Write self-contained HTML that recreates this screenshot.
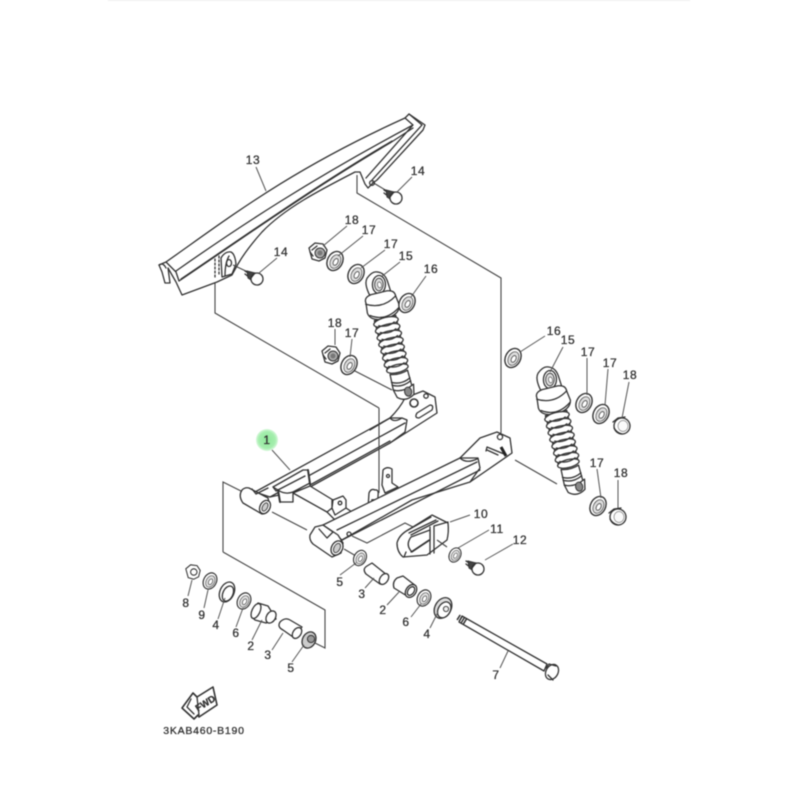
<!DOCTYPE html>
<html><head><meta charset="utf-8"><style>
html,body{margin:0;padding:0;background:#fff;width:800px;height:800px;overflow:hidden}
svg{display:block;filter:blur(.5px)}
text{font-family:"Liberation Sans",sans-serif;font-size:12px;fill:#333;text-anchor:middle;stroke:#333;stroke-width:.3px;letter-spacing:.6px}
.l{stroke:#333;stroke-width:1.3;fill:none;stroke-linejoin:round;stroke-linecap:round}
.f{stroke:#333;stroke-width:1.3;fill:#fff;stroke-linejoin:round}
.t{stroke:#555;stroke-width:1}
.d{stroke:#444;stroke-width:1.1;fill:none}
</style></head><body>
<svg width="800" height="800" viewBox="0 0 800 800" xmlns="http://www.w3.org/2000/svg">
<defs>
<radialGradient id="g"><stop offset="0" stop-color="#8fe89a"/><stop offset=".75" stop-color="#a5eeae"/><stop offset="1" stop-color="#d8f8dc"/></radialGradient>
<g id="w"><ellipse rx="7.5" ry="10" transform="rotate(28)" fill="#fff" stroke="#333" stroke-width="1.4"/><ellipse rx="5" ry="7.2" cx=".6" cy=".3" transform="rotate(28)" fill="#ddd" stroke="#555" stroke-width=".8"/><ellipse rx="2.2" ry="3.6" cx="1" cy=".5" transform="rotate(28)" fill="#fff" stroke="#444" stroke-width=".8"/></g>
<g id="nut"><path class="f" d="M-9 -4 L-3 -9 L5 -8 L9 -2 L7 6 L1 9 L-6 7 Z"/><path class="l" d="M-6 -2 L-1 -6 M-5 4 L-8 0"/><circle cx="2" cy="1" r="5" fill="#aaa" stroke="#333"/><circle cx="2" cy="1" r="2.5" fill="#777"/></g>
<g id="dome"><circle r="8" cx="2" cy="1" class="f"/><path class="l" d="M-7 -3 L-2 -7 L5 -8 M-6 3 Q-3 8 2 9"/><ellipse cx="3" cy="1" rx="5" ry="5.5" fill="#fafafa" stroke="#888" stroke-width=".7"/></g>
<g id="bolt"><path class="l" d="M-10 -6 L-3 -2 M-10 -3 L-5 1" stroke-width="1.6"/><path d="M-8 -6 L0 -4 L-1 5 L-7 1 Z" fill="#444" stroke="#333"/><circle cx="2" cy="2" r="6" class="f"/><path class="l" d="M-4 1 L0 -4"/></g>
<g id="shock">
<path class="f" d="M-10 6 Q-12 -5 -8 -9 Q-2 -14 2 -13 Q10 -11 11 -2 L12 12 L-8 14 Z"/>
<ellipse cx="2" cy="0" rx="6.5" ry="9" class="f" transform="rotate(15 2 0)"/><ellipse cx="2" cy="0" rx="4.3" ry="6.3" fill="#ddd" stroke="#444" transform="rotate(15 2 0)"/><ellipse cx="2.5" cy=".5" rx="2" ry="3" fill="#fff" stroke="#666" stroke-width=".8"/>
<path class="f" d="M-15 15 Q-16 9 -8 8 L8 8 Q16 9 15.5 15 L17 25 Q15 34 0 35 Q-15 34 -16 25 Z"/>
<path class="l" d="M-15.5 16 Q0 25 15.5 15"/>
<path class="l" d="M-14 28 Q0 38 16 27" stroke="#666"/>
<path class="f" d="M-11 34 L-10 86 L10 86 L11 34 Z"/>
<g class="f">
<ellipse cx="0" cy="38" rx="12.5" ry="4.5"/><ellipse cx="0" cy="45" rx="12.5" ry="4.5"/><ellipse cx="0" cy="52" rx="12.5" ry="4.5"/><ellipse cx="0" cy="59" rx="12.5" ry="4.5"/><ellipse cx="0" cy="66" rx="12" ry="4.5"/><ellipse cx="0" cy="73" rx="12" ry="4.5"/><ellipse cx="0" cy="80" rx="12" ry="4.5"/><ellipse cx="0" cy="86" rx="11" ry="4"/>
</g>
<path class="l" stroke="#777" stroke-width=".8" d="M-8 40 Q0 44 8 40 M-8 47 Q0 51 8 47 M-8 54 Q0 58 8 54 M-8 61 Q0 65 8 61 M-8 68 Q0 72 8 68 M-8 75 Q0 79 8 75 M-8 82 Q0 86 8 82"/>
<path class="f" d="M-8.5 90 L-9 106 Q0 111 10 106 L9.5 90 Q0 93 -8.5 90 Z"/>
<path class="l" d="M-9 98 Q0 103 10 98 M-9 101 Q0 106 10 101"/>
<path class="f" d="M-9 106 L-7 114 Q1 121 10 115 L12 105 Q0 111 -9 106 Z"/>
<ellipse cx="5" cy="111" rx="3.6" ry="4.6" fill="#888" stroke="#333"/>
</g>
</defs>
<rect width="800" height="800" fill="#fff"/>
<path d="M108 0.5H690" stroke="#eee"/>
<circle cx="267" cy="440" r="11" fill="url(#g)"/>

<!-- dashed / assembly lines -->
<path class="d" d="M215 282V313L379 408"/>
<path class="d" d="M357 175V193L501 278V433"/>
<path class="d" d="M223 552V482L243 492M272 512L307 530"/>
<path class="d" d="M223 552L325 610V648L315 643"/>
<path class="d" d="M353 370L392 390"/>
<path class="d" d="M515 460L557 484"/>
<path class="d" d="M344 549L356 556"/>

<!-- chain guard -->
<path class="f" d="M159 265 L166 262 C230 217 290 170 405 118 L409 114 L425 125 L423 130 L377 180 L373 183 L368 188 L365 184 L360 172 L355 172 C320 190 285 208 262 232 Q246 250 238 264 L232 275 L217 282 L182 295 L176 282 L168 268 L170 283 L165 283 L162 272 Z"/>
<path class="l" d="M166 262 L176 272 L179 281 M159 265 Q163 262 166 268 M176 271 C240 226 310 180 413 125 L405 118 M179 281 C240 240 310 190 390 143 M181 279 C242 238 312 188 392 141 M409 114 L422 125 L372 180 M413 125 L366 178 M390 143 L413 128"/>
<path class="f" d="M221 258 Q225 251 231 252 Q235 254 236 264 L232 274 L222 277 Z"/>
<path class="l" d="M225 276 Q225 263 229 256"/>
<ellipse cx="229" cy="263" rx="2.5" ry="3.5" class="l"/>
<path class="l" stroke-dasharray="2 2" d="M215 259V279M219 256V276"/>
<path class="d" d="M233 265L250 273"/><path class="d" d="M372 182L387 191"/>
<circle cx="372" cy="183" r="2.4" class="l"/>
<use href="#bolt" x="394" y="196"/><use href="#bolt" x="255" y="277"/>

<!-- far arm -->
<path class="f" d="M255 492 L390 418 Q400 408 405 398 L423 391 L435 397 L437 413 L390 443 L310 487 L293 492 L270 497 Z"/>
<path class="l" d="M370 430 L390 418 L402 418 L407 420 L405 432 L390 443 M270 497 L405 423 M310 485 L390 441"/>
<path class="l" d="M390 418 Q394 423 402 418"/>
<circle cx="414" cy="403" r="4" class="l" style="stroke-width:1.6"/><circle cx="426" cy="396" r="2.2" class="l"/>
<path class="l" d="M417 413 L430 405 Q434 405 432 410 L419 418 Q414 418 417 413 Z"/>
<!-- cross tube -->
<path class="f" d="M293 493 L310 486 L333 500 L343 496 L346 500 L346 508 L352 512 L335 520 L327 512 Z"/>
<path class="l" d="M332 500 L332 508 L335 515 L346 508 M333 500 L332 508 L327 512"/>
<circle cx="340" cy="503" r="1.8" class="l"/>
<path class="f" d="M273 487 L303 470 L308 470 L310 483 L293 492 L293 502 L280 502 L278 490 Z"/>
<path class="l" d="M278 490 L280 502" style="stroke-width:2"/><path class="l" d="M308 470 L310 484" style="stroke-width:2"/><path class="l" d="M278 490 Q285 495 293 492 M273 487 L276 491 L305 476"/>
<!-- far pivot tube -->
<path class="f" d="M242 490 Q245 487 249 488 L268 498 L270 507 Q268 514 262 514 L243 503 Q238 496 242 490 Z"/>
<path class="l" d="M252 489 L256 494 L268 488"/>
<ellipse cx="265" cy="507" rx="5" ry="7" class="f" transform="rotate(28 265 507)"/><ellipse cx="265" cy="507" rx="2.5" ry="4.5" fill="#ccc" stroke="#444" transform="rotate(28 265 507)"/>

<!-- upright tabs & vertical line -->
<path class="f" d="M383 470 Q387 466 392 469 L392 483 L398 487 L385 493 L382 485 Z"/>
<circle cx="388" cy="476" r="1.5" class="l"/>
<path class="f" d="M369 493 Q371 488 375 490 Q379 489 378 496 L378 506 L368 508 Z"/>
<path class="l" d="M368 505 L364 508 L370 510 M372 500 h3" style="stroke-width:1.8"/>
<path class="d" d="M379 408V493"/>

<!-- near arm -->
<path class="f" d="M323 525 L460 458 L470 448 L480 438 L497 432 L510 438 L512 453 L470 482 L412 500 L342 540 Z"/>
<path class="l" d="M460 458 L470 458 L478 458 L480 468 L470 482 M337 530 L477 462 M342 540 L480 470"/>
<path class="l" d="M460 458 Q466 464 477 459"/>
<circle cx="500" cy="437" r="2.6" class="l"/>
<path class="l" d="M487 447 L504 454 M487 450 L498 455 M487 447 L486 451"/>
<path d="M501 447 L506 456" stroke="#222" stroke-width="3"/>
<!-- near tube -->
<path class="f" d="M310 535 L315 527 L323 525 L338 535 L343 543 L341 553 L332 557 L313 544 Q309 540 310 535 Z"/>
<path class="l" d="M319 529 L327 538 L333 532 L323 525"/>
<ellipse cx="337" cy="548" rx="5.5" ry="7.5" class="f" transform="rotate(28 337 548)"/><ellipse cx="337" cy="548" rx="3" ry="5" fill="#ccc" stroke="#444" transform="rotate(28 337 548)"/>
<circle cx="349" cy="534" r="2" class="l"/>
<path class="d" d="M352 536L367 543L405 523L415 528"/>

<!-- footrest bracket -->
<path class="f" d="M397 543 Q399 535 408 530 L432 515 L448 523 Q449 532 447 540 L427 555 L403 557 Q397 552 397 543 Z"/>
<path class="l" d="M408 530 L431 517 M409 533 L436 520 M411 535 L438 521 M430 527 L430 554 M434 526 L434 553 M434 526 L448 522 M404 557 L406 552"/>
<path class="f" d="M411 537 L430 530 L430 540 L412 552 Q405 545 411 537 Z"/>
<path class="l" d="M411 552 L429 540"/>
<path class="d" d="M437 540 L447 547"/>

<!-- shocks -->
<use href="#shock" transform="translate(377 285) rotate(-13.7)"/>
<use href="#shock" transform="translate(548 380) rotate(-13.7)"/>

<!-- washers / nuts -->
<use href="#nut" x="318" y="252"/><use href="#w" x="335" y="261"/><use href="#w" x="356" y="274"/><use href="#w" x="407" y="303"/>
<use href="#nut" x="331" y="355"/><use href="#w" x="349" y="365"/>
<use href="#w" x="513" y="358"/><use href="#w" x="584" y="403"/><use href="#w" x="601" y="414"/><use href="#dome" x="620" y="425"/>
<use href="#w" x="598" y="506"/><use href="#dome" x="616" y="516"/>
<g transform="translate(455 555) scale(.75)"><use href="#w"/></g><use href="#bolt" x="476" y="567"/>
<g transform="translate(360 558) scale(.8)"><use href="#w"/></g>
<g transform="translate(424 598) scale(.85)"><use href="#w"/></g>
<g transform="translate(210 581) scale(.85)"><use href="#w"/></g><g transform="translate(244 601) scale(.85)"><use href="#w"/></g>
<g transform="translate(193 572) scale(.8)"><path class="f" d="M-9 -4 L-3 -9 L5 -8 L9 -2 L7 6 L1 9 L-6 7 Z"/><circle cx="1" cy="0" r="4" class="l"/></g>
<g transform="translate(227 592)"><ellipse rx="7" ry="10.5" transform="rotate(25)" class="f"/><ellipse cx="1.5" cy="1" rx="5" ry="8" transform="rotate(25)" class="f"/></g>
<g transform="translate(443 608)"><ellipse rx="8" ry="11" transform="rotate(30)" class="f" style="fill:#ddd"/><ellipse cx="2" cy="1" rx="6" ry="8.5" transform="rotate(30)" class="f"/><circle cx="3" cy="1" r="2.6" fill="#eee" stroke="#444"/></g>
<g transform="translate(309 640)"><ellipse rx="6.5" ry="8.5" transform="rotate(28)" fill="#ccc" stroke="#333" stroke-width="1.3"/><circle cx="2" cy="-1" r="3.6" fill="#999" stroke="#333"/></g>

<!-- collars -->
<path class="f" d="M367 566 Q362 569 366 574 L380 584 L387 575 L372 563 Z"/><ellipse cx="384" cy="579" rx="4" ry="6" class="f" transform="rotate(35 384 579)"/>
<path class="f" d="M397 578 Q392 582 394 588 L407 596 L416 586 L403 576 Z"/><ellipse cx="411" cy="591" rx="5" ry="7" class="f" transform="rotate(35 411 591)"/><ellipse cx="411" cy="591" rx="3" ry="4.8" class="l" transform="rotate(35 411 591)"/>
<path class="f" d="M254 609 Q249 615 255 620 L266 623 L276 619 L268 606 L258 603 Z"/><ellipse cx="256" cy="611" rx="4" ry="8" class="f" transform="rotate(25 256 611)"/><ellipse cx="271" cy="617" rx="4.5" ry="6.5" class="f" transform="rotate(30 271 617)"/>
<path class="f" d="M280 622 Q277 627 283 630 L293 637 L302 627 L290 620 Q285 617 280 622 Z"/><ellipse cx="297" cy="633" rx="4" ry="6" class="f" transform="rotate(35 297 633)"/>

<!-- axle -->
<path class="f" d="M462 616 L547 664 L544 671 L459 622 Z"/>
<path d="M458 617 L466 622" stroke="#333" stroke-width="6" stroke-dasharray="1.5 1"/>
<ellipse cx="552" cy="672" rx="6" ry="8" class="f" transform="rotate(30 552 672)"/>
<path class="l" d="M546 668 L549 664 L556 666 M548 675 L553 680"/>

<!-- FWD -->
<path class="f" style="stroke-width:1.6" d="M182 708 L193 693 L197 697 L213 687 L217 705 L199 717 L198 715 L194 719 Z"/>
<path class="l" d="M191 699 L187 707 L194 714 M197 697 L199 715"/>
<text transform="translate(207 706) rotate(-32)" style="font-size:9.5px;font-weight:bold;letter-spacing:0" >FWD</text>

<!-- leaders -->
<g class="t">
<path d="M256 167L266 191M412 177L397 192M277 258L259 273M347 226L323 246M363 236L338 256M385 250L361 268M400 262L381 277M426 276L411 297M335 329V345M352 339L350 357M545 336L520 352M563 347L550 372M587 358V395M608 369L605 405M629 382L622 418M597 469L601 498M618 480V508M272 450L290 470M470 515L450 522M489 530L458 548M513 544L485 560M340 575L356 563M365 588L374 578M387 605L399 592M411 617L421 604M430 628L438 612M500 668L508 651M188 596L192 580M204 608L208 590M218 619L225 598M236 627L243 608M252 640L262 620M272 650L283 633M292 662L304 645"/>
</g>

<!-- labels -->
<text x="253" y="164">13</text><text x="418" y="175">14</text><text x="281" y="256">14</text>
<text x="352" y="224">18</text><text x="369" y="234">17</text><text x="391" y="248">17</text><text x="406" y="260">15</text><text x="431" y="273">16</text>
<text x="335" y="327">18</text><text x="352" y="337">17</text>
<text x="554" y="335">16</text><text x="568" y="344">15</text><text x="588" y="356">17</text><text x="610" y="367">17</text><text x="630" y="379">18</text>
<text x="597" y="467">17</text><text x="621" y="477">18</text>
<text x="267" y="444">1</text>
<text x="481" y="518">10</text><text x="497" y="533">11</text><text x="520" y="544">12</text>
<text x="340" y="586">5</text><text x="362" y="598">3</text><text x="383" y="614">2</text><text x="406" y="626">6</text><text x="427" y="638">4</text><text x="496" y="679">7</text>
<text x="186" y="607">8</text><text x="202" y="619">9</text><text x="216" y="629">4</text><text x="236" y="637">6</text><text x="251" y="650">2</text><text x="268" y="659">3</text><text x="291" y="672">5</text>
<text x="204" y="734" style="font-size:10.5px;letter-spacing:.75px">3KAB460-B190</text>
</svg>
</body></html>
